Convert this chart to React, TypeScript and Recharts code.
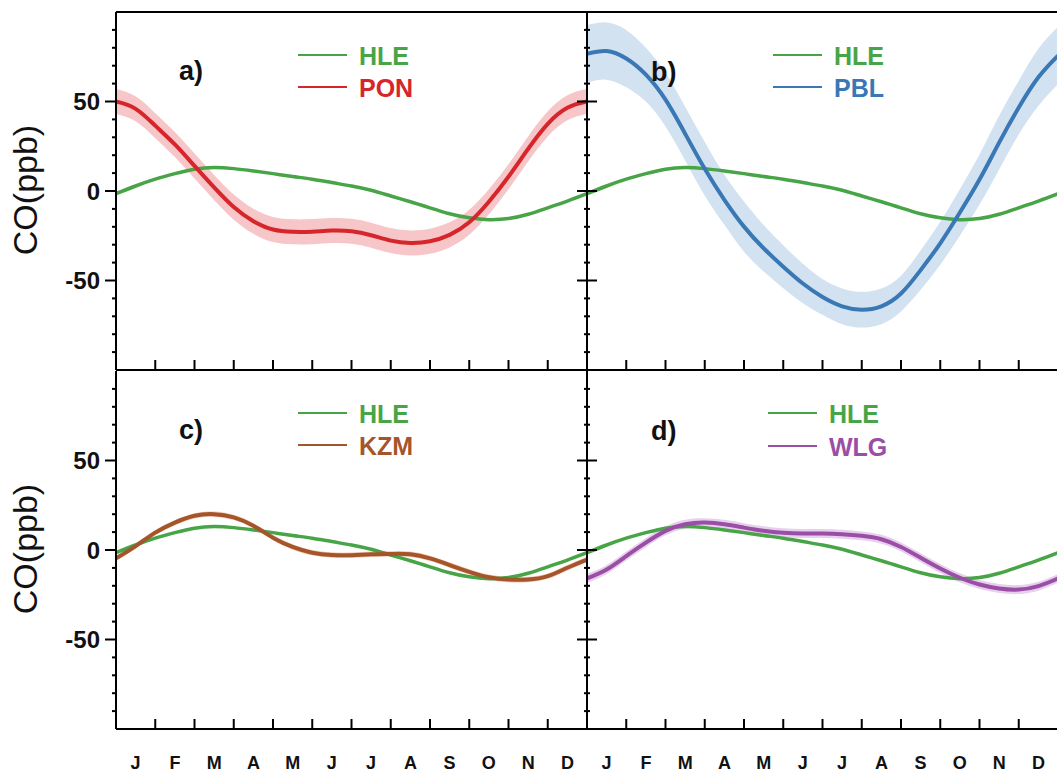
import { ComposedChart, Line, Area, XAxis, YAxis } from 'recharts'

// month grid: one value every half month, Jan 1 .. Dec 31
const MONTHS = ['J', 'F', 'M', 'A', 'M', 'J', 'J', 'A', 'S', 'O', 'N', 'D']
const MONTH_POS = [0, 0.5, 1, 1.5, 2, 2.5, 3, 3.5, 4, 4.5, 5, 5.5, 6, 6.5, 7, 7.5, 8, 8.5, 9, 9.5, 10, 10.5, 11, 11.5, 12]

// seasonal CO anomalies (ppb)
const HLE = [-1.5, 2.8, 6.6, 9.7, 12.2, 13.1, 12.5, 11.2, 9.7, 8.1, 6.6, 4.7, 2.8, 0.4, -2.8, -6, -9.4, -12.7, -15, -16, -15.4, -13, -9.4, -5.6, -1.5]
const PON = [50, 45.9, 36.5, 26, 14, 2, -9, -16.9, -21.5, -22.8, -22.7, -22.1, -22.5, -24.7, -27.7, -29, -28.1, -24.5, -17.5, -6, 8, 23.5, 37.5, 46.5, 50]
const PBL = [76.6, 78.2, 74, 65, 51, 32, 12.4, -4.9, -19.9, -32, -42.3, -51.7, -59.2, -64.4, -66.3, -64.4, -57.3, -44.2, -29.2, -12, 6.4, 27, 46.6, 63.5, 75.6]
const KZM = [-4.7, 2.2, 9.7, 15.3, 19.1, 20, 18.2, 13.5, 6.9, 1.7, -1.5, -2.8, -2.9, -2.4, -2.2, -2.4, -4.7, -8.4, -12.2, -15.2, -16.5, -16.5, -14.6, -9.9, -5.3]
const WLG = [-15.9, -10.9, -3.4, 4.1, 10.7, 14.4, 15.3, 14.4, 12.5, 10.7, 9.6, 9.2, 9.2, 8.8, 7.9, 6, 1.7, -4.3, -10.3, -15.5, -19.3, -21.5, -22.1, -20.2, -15.9]

// uncertainty half-widths (ppb)
const PON_SPREAD = 7
const PBL_SPREAD = [16, 16, 16, 15, 15, 15, 15, 14, 14, 13, 12, 11, 10, 10, 10, 10, 10, 11, 12, 13, 14, 15, 15, 16, 16]
const KZM_SPREAD = 1.5
const WLG_SPREAD = 2.5

const Y_TICKS = [-90, -80, -70, -60, -50, -40, -30, -20, -10, 0, 10, 20, 30, 40, 50, 60, 70, 80, 90]
const X_TICKS = MONTHS.flatMap((_, i) => (i === 0 ? [0.5] : [i, i + 0.5]))

const FONT = '"Liberation Sans", Arial, Helvetica, sans-serif'
const GREEN = '#47a447'
const AXIS = { stroke: '#000', strokeWidth: 2 }

function XTick({ x, y, payload, labels }: any) {
  const v = payload.value
  if (Number.isInteger(v)) {
    return <line x1={x} x2={x} y1={y} y2={y - 10} stroke="#000" strokeWidth={2} />
  }
  if (!labels) return <g />
  return (
    <text x={x} y={y + 40} textAnchor="middle" fontSize={18} fontWeight="bold" fontFamily={FONT} fill="#111">
      {MONTHS[Math.floor(v)]}
    </text>
  )
}

function YTick({ x, y, payload, inner }: any) {
  const v = payload.value
  const major = v % 50 === 0
  if (inner) {
    const len = major ? 10 : 3
    return <line x1={x - len} x2={x + len} y1={y} y2={y} stroke="#000" strokeWidth={2} />
  }
  const len = major ? 11 : 4
  return (
    <g>
      <line x1={x - len} x2={x + 1} y1={y} y2={y} stroke="#000" strokeWidth={2} />
      {major && (
        <text x={x - 16} y={y} dy="0.36em" textAnchor="end" fontSize={24} fontWeight="bold" fontFamily={FONT} fill="#111">
          {v}
        </text>
      )}
    </g>
  )
}

function Panel({ values, spread, color, band, left, top, bottom, right }: any) {
  const data = MONTH_POS.map((m, i) => {
    const s = typeof spread === 'number' ? spread : spread[i]
    return { m, hle: HLE[i], site: values[i], band: [values[i] - s, values[i] + s] }
  })
  const height = bottom ? 414 : 380
  return (
    <div style={{ position: 'absolute', left, top }}>
      <ComposedChart width={600} height={height} data={data} margin={{ top: 11, right: 13, left: 56, bottom: 0 }}>
        <XAxis
          dataKey="m"
          type="number"
          domain={[0, 12]}
          ticks={X_TICKS}
          interval={0}
          height={bottom ? 44 : 10}
          tickSize={0}
          tickMargin={0}
          tickLine={false}
          axisLine={AXIS}
          tick={(p: any) => <XTick {...p} labels={bottom} />}
          allowDataOverflow
        />
        <XAxis
          xAxisId="top"
          orientation="top"
          dataKey="m"
          type="number"
          domain={[0, 12]}
          height={1}
          tick={false}
          tickLine={false}
          axisLine={bottom ? false : AXIS}
        />
        <YAxis
          type="number"
          domain={[-100, 100]}
          ticks={Y_TICKS}
          interval={0}
          width={60}
          tickSize={0}
          tickMargin={0}
          tickLine={false}
          axisLine={AXIS}
          tick={(p: any) => <YTick {...p} inner={right} />}
          allowDataOverflow
        />
        <Area dataKey="band" type="natural" stroke="none" fill={band} fillOpacity={1} legendType="none" isAnimationActive={false} />
        <Line dataKey="hle" type="natural" stroke={GREEN} strokeWidth={3.5} dot={false} activeDot={false} isAnimationActive={false} />
        <Line dataKey="site" type="natural" stroke={color} strokeWidth={4} dot={false} activeDot={false} isAnimationActive={false} />
      </ComposedChart>
    </div>
  )
}

function LegendBlock({ x, y1, y2, site, color }: any) {
  return (
    <g fontFamily={FONT} fontWeight="bold" fontSize={25}>
      <line x1={x} x2={x + 49} y1={y1} y2={y1} stroke={GREEN} strokeWidth={2} />
      <text x={x + 61} y={y1 + 10} fill={GREEN}>HLE</text>
      <line x1={x} x2={x + 49} y1={y2} y2={y2} stroke={color} strokeWidth={2} />
      <text x={x + 61} y={y2 + 10} fill={color}>{site}</text>
    </g>
  )
}

export default function App() {
  return (
    <div style={{ position: 'absolute', left: 0, top: 0, width: 1057, height: 773, overflow: 'hidden', background: '#fff' }}>
      <Panel values={PON} spread={PON_SPREAD} color="#d7262b" band="#f6c6c8" left={0} top={0} />
      <Panel values={PBL} spread={PBL_SPREAD} color="#3a78b5" band="#d2e2f1" left={471} top={0} right />
      <Panel values={KZM} spread={KZM_SPREAD} color="#a5552b" band="#f4c9b0" left={0} top={359} bottom />
      <Panel values={WLG} spread={WLG_SPREAD} color="#9a4ea6" band="#e7d0ed" left={471} top={359} bottom right />
      <svg width={1057} height={773} style={{ position: 'absolute', left: 0, top: 0, pointerEvents: 'none' }}>
        <g fontFamily={FONT} fontSize={34} fill="#111">
          <text transform="rotate(-90)" x={-190} y={37} textAnchor="middle">CO(ppb)</text>
          <text transform="rotate(-90)" x={-549} y={37} textAnchor="middle">CO(ppb)</text>
        </g>
        <g fontFamily={FONT} fontSize={27} fontWeight="bold" fill="#111">
          <text x={179} y={80}>a)</text>
          <text x={651} y={81}>b)</text>
          <text x={179} y={439}>c)</text>
          <text x={651} y={440}>d)</text>
        </g>
        <LegendBlock x={298} y1={55} y2={87} site="PON" color="#d7262b" />
        <LegendBlock x={773} y1={55} y2={87} site="PBL" color="#3a78b5" />
        <LegendBlock x={298} y1={413} y2={445} site="KZM" color="#a5552b" />
        <LegendBlock x={768} y1={413} y2={446} site="WLG" color="#9a4ea6" />
      </svg>
    </div>
  )
}
